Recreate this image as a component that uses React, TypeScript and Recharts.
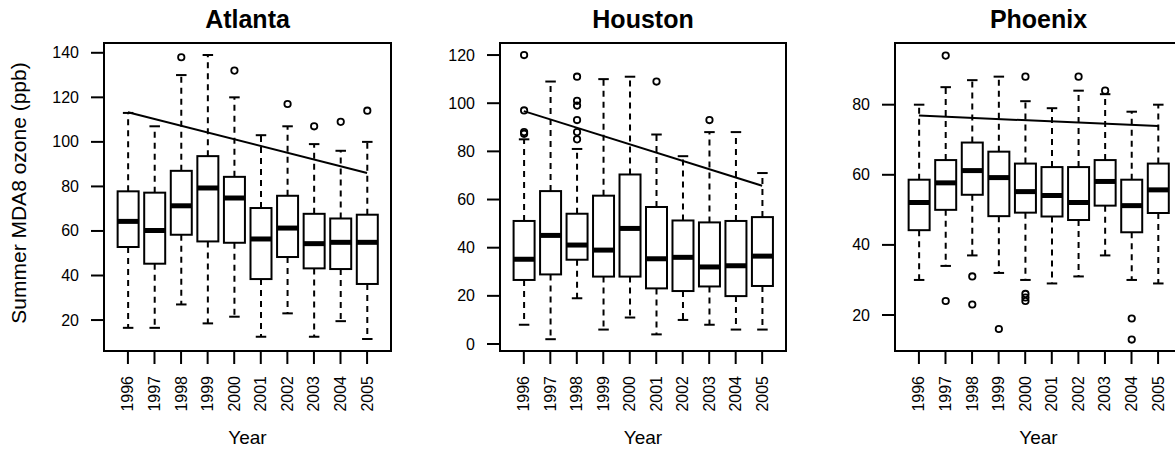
import React from 'react';
import { ComposedChart, Bar, Line, XAxis, YAxis } from 'recharts';

const YEARS = ['1996', '1997', '1998', '1999', '2000', '2001', '2002', '2003', '2004', '2005'];

// Atlanta: whisker ends, quartiles, medians, outliers and trend end points (ppb)
const ATL_LOW = [16.5, 16.5, 27, 18.5, 21.5, 12.5, 23, 12.5, 19.5, 11.5];
const ATL_Q1 = [52.8, 45.3, 58.3, 55.3, 54.7, 38.4, 48.3, 43.2, 42.9, 36.2];
const ATL_MED = [64.3, 60.2, 71.3, 79.3, 74.8, 56.4, 61.3, 54.3, 54.9, 54.9];
const ATL_Q3 = [77.8, 77.2, 87, 93.6, 84.3, 70.3, 75.8, 67.7, 65.6, 67.3];
const ATL_HIGH = [113, 107, 130, 139, 120, 103, 107, 99, 96, 100];
const ATL_OUT = [[], [], [138], [], [132], [], [117], [107], [109], [114]];
const ATL_TREND = [113.3, 86];

// Houston
const HOU_LOW = [8, 2, 19, 6, 11, 4, 10, 8, 6, 6];
const HOU_Q1 = [26.6, 28.9, 35, 28, 28, 23.1, 22, 23.9, 19.9, 24.1];
const HOU_MED = [35.2, 45.1, 41.1, 39, 48, 35.4, 36, 32, 32.5, 36.5];
const HOU_Q3 = [51.1, 63.5, 54.1, 61.6, 70.4, 56.9, 51.3, 50.5, 51.1, 52.7];
const HOU_HIGH = [85, 109, 81, 110, 111, 87, 78, 88, 88, 71];
const HOU_OUT = [[120, 97, 88, 87.3], [], [111, 101, 99, 93, 88, 85], [], [], [109], [], [93], [], []];
const HOU_TREND = [96.7, 65.7];

// Phoenix
const PHX_LOW = [30, 34, 37, 32, 30, 29, 31, 37, 30, 29];
const PHX_Q1 = [44.2, 50, 54.3, 48.2, 49.2, 48.1, 47.1, 51.2, 43.6, 49.1];
const PHX_MED = [52.1, 57.7, 61.2, 59.2, 55.2, 54.1, 52.1, 58.1, 51.2, 55.7];
const PHX_Q3 = [58.6, 64.2, 69.2, 66.6, 63.2, 62.2, 62.2, 64.2, 58.6, 63.2];
const PHX_HIGH = [80, 85, 87, 88, 81, 79, 84, 83, 78, 80];
const PHX_OUT = [[], [94, 24], [31, 23], [16], [88, 26, 25, 24], [], [88], [84], [19, 13], []];
const PHX_TREND = [76.9, 73.9];

const FONT = '"Liberation Sans", Arial, Helvetica, sans-serif';
const TOP = 43;
const BOTTOM = 351;
const LEFT_ROOM = 100;

type Row = {
  year: string;
  low: number;
  q1: number;
  med: number;
  q3: number;
  high: number;
  out: number[];
  range: [number, number];
  trend: number | null;
};

function buildRows(
  low: number[], q1: number[], med: number[], q3: number[], high: number[],
  out: number[][], trend: number[]
): Row[] {
  const last = YEARS.length - 1;
  return YEARS.map((year, i) => ({
    year,
    low: low[i],
    q1: q1[i],
    med: med[i],
    q3: q3[i],
    high: high[i],
    out: out[i],
    range: [low[i], high[i]],
    trend: i === 0 ? trend[0] : i === last ? trend[1] : null,
  }));
}

const PANELS = [
  {
    title: 'Atlanta', left: 104, width: 287, domain: [6.1, 144.4], ticks: [20, 40, 60, 80, 100, 120, 140],
    rows: buildRows(ATL_LOW, ATL_Q1, ATL_MED, ATL_Q3, ATL_HIGH, ATL_OUT, ATL_TREND),
  },
  {
    title: 'Houston', left: 500, width: 286, domain: [-2.9, 125], ticks: [0, 20, 40, 60, 80, 100, 120],
    rows: buildRows(HOU_LOW, HOU_Q1, HOU_MED, HOU_Q3, HOU_HIGH, HOU_OUT, HOU_TREND),
  },
  {
    title: 'Phoenix', left: 895, width: 287, domain: [9.73, 97.6], ticks: [20, 40, 60, 80],
    rows: buildRows(PHX_LOW, PHX_Q1, PHX_MED, PHX_Q3, PHX_HIGH, PHX_OUT, PHX_TREND),
  },
];

// Whole box-and-whisker glyph; the bar spans low..high so its pixel height gives the y scale
function BoxShape(props: any) {
  const { x, y, width, height, payload } = props;
  const { low, q1, med, q3, high, out } = payload as Row;
  const k = height / (high - low);
  const py = (v: number) => y + (high - v) * k;
  const cx = x + width / 2;
  const cap = width / 4;
  return (
    <g>
      <line x1={cx} y1={py(q3)} x2={cx} y2={py(high)} stroke="#000" strokeWidth={2} strokeDasharray="6 5" />
      <line x1={cx} y1={py(q1)} x2={cx} y2={py(low)} stroke="#000" strokeWidth={2} strokeDasharray="6 5" />
      <line x1={cx - cap} y1={py(high)} x2={cx + cap} y2={py(high)} stroke="#000" strokeWidth={2} />
      <line x1={cx - cap} y1={py(low)} x2={cx + cap} y2={py(low)} stroke="#000" strokeWidth={2} />
      <rect x={x} y={py(q3)} width={width} height={py(q1) - py(q3)} fill="none" stroke="#000" strokeWidth={2} />
      <line x1={x} y1={py(med)} x2={x + width} y2={py(med)} stroke="#000" strokeWidth={5} />
      {out.map((v, i) => (
        <circle key={i} cx={cx} cy={py(v)} r={3.2} fill="none" stroke="#000" strokeWidth={1.8} />
      ))}
    </g>
  );
}

function YearTick(props: any) {
  const { x, y, payload } = props;
  return (
    <text
      x={x}
      y={y}
      transform={`rotate(-90 ${x} ${y})`}
      textAnchor="end"
      dominantBaseline="central"
      fontFamily={FONT}
      fontSize={16}
      fill="#000"
    >
      {payload.value}
    </text>
  );
}

function ValueTick(props: any) {
  const { x, y, payload } = props;
  return (
    <text x={x} y={y} textAnchor="end" dominantBaseline="central" fontFamily={FONT} fontSize={16} fill="#000">
      {payload.value}
    </text>
  );
}

function Panel({ panel }: { panel: (typeof PANELS)[number] }) {
  const unit = panel.width / 10.8;
  const pad = unit * 0.4;
  const w = LEFT_ROOM + panel.width + 20;
  return (
    <div style={{ position: 'absolute', left: panel.left - LEFT_ROOM, top: 0 }}>
      <ComposedChart
        width={w}
        height={449}
        data={panel.rows}
        margin={{ top: TOP, right: 20, bottom: 449 - BOTTOM - 60, left: 0 }}
      >
        <XAxis
          dataKey="year"
          type="category"
          interval={0}
          height={60}
          padding={{ left: pad, right: pad }}
          axisLine={false}
          tickSize={13}
          tickMargin={12}
          tickLine={{ stroke: '#000', strokeWidth: 2 }}
          tick={<YearTick />}
        />
        <YAxis
          type="number"
          width={LEFT_ROOM}
          domain={panel.domain}
          ticks={panel.ticks}
          allowDataOverflow
          axisLine={false}
          tickSize={13}
          tickMargin={12}
          tickLine={{ stroke: '#000', strokeWidth: 2 }}
          tick={<ValueTick />}
        />
        <Bar dataKey="range" barSize={Math.round(unit * 0.8)} shape={<BoxShape />} isAnimationActive={false} />
        <Line
          dataKey="trend"
          type="linear"
          connectNulls
          dot={false}
          stroke="#000"
          strokeWidth={2}
          isAnimationActive={false}
        />
      </ComposedChart>
    </div>
  );
}

export default function App() {
  return (
    <div
      style={{
        position: 'fixed',
        left: 0,
        top: 0,
        width: 1175,
        height: 449,
        overflow: 'hidden',
        background: '#fff',
      }}
    >
      {PANELS.map((p) => (
        <Panel key={p.title} panel={p} />
      ))}
      <svg
        width={1175}
        height={449}
        style={{ position: 'absolute', left: 0, top: 0, pointerEvents: 'none', overflow: 'visible' }}
        fontFamily={FONT}
      >
        {PANELS.map((p) => (
          <g key={p.title}>
            <rect x={p.left} y={TOP} width={p.width} height={BOTTOM - TOP} fill="none" stroke="#000" strokeWidth={2} />
            <text x={p.left + p.width / 2} y={28} textAnchor="middle" fontSize={25} fontWeight="bold" fill="#000">
              {p.title}
            </text>
            <text x={p.left + p.width / 2} y={444} textAnchor="middle" fontSize={19} fill="#000">
              Year
            </text>
          </g>
        ))}
        <text x={26} y={193} transform="rotate(-90 26 193)" textAnchor="middle" fontSize={21} fill="#000">
          Summer MDA8 ozone (ppb)
        </text>
      </svg>
    </div>
  );
}
